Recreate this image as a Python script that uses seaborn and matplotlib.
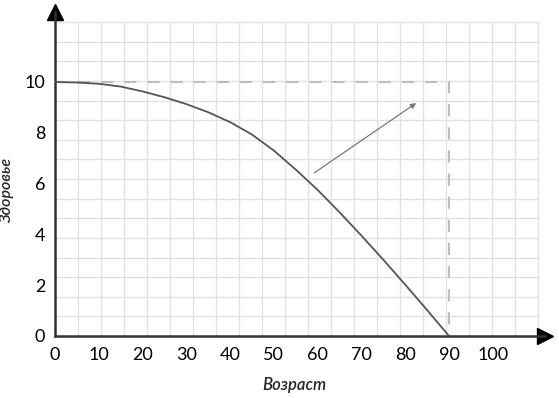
import numpy as np
import pandas as pd
import seaborn as sns
import matplotlib.pyplot as plt

sns.set_theme(style="white")
plt.rcParams['font.family'] = ['Lato', 'DejaVu Sans']

# health vs age
age = [0, 5, 10, 15, 20, 25, 30, 35, 40, 45, 50, 55, 60, 65, 70, 75, 80, 85, 90]
health = [10, 9.98, 9.93, 9.82, 9.63, 9.4, 9.13, 8.81, 8.42, 7.93, 7.3, 6.55,
          5.75, 4.87, 3.95, 3.0, 2.02, 1.02, 0]
x_ticks = [0, 10, 20, 30, 40, 50, 60, 70, 80, 90, 100]
y_ticks = [0, 2, 4, 6, 8, 10]
limit_age = 90
limit_health = 10
arrow_from = (59.2, 6.42)
arrow_to = (82.5, 9.17)

df = pd.DataFrame({'Возраст': age, 'Здоровье': health})

fig = plt.figure(figsize=(5.59, 3.98), dpi=100)
px_x, px_y = 1 / 559, 1 / 398
left, bottom = 55 * px_x, (398 - 336) * px_y
right, top = 545 * px_x, (398 - 12) * px_y
ax = fig.add_axes([left, bottom, right - left, top - bottom])

xmax = (545 - 55) / 4.378
ymax = (336 - 12) / 25.4
ax.set_xlim(0, xmax)
ax.set_ylim(0, ymax)

# background grid (not aligned to ticks)
gx = np.arange(1, 22) * 5.254
gy = np.arange(1, 17) * 0.7725
for v in gx:
    ax.plot([v, v], [0, 16 * 0.7725], color='#e2e2e2', lw=1, zorder=0)
for v in gy:
    ax.plot([0, 21 * 5.254], [v, v], color='#e2e2e2', lw=1, zorder=0)

# dashed guide lines
ax.plot([0, limit_age, limit_age], [limit_health, limit_health, 0],
        color='#bdbdbd', lw=1.5, dashes=(5.8, 5.3), zorder=1)

sns.lineplot(data=df, x='Возраст', y='Здоровье', ax=ax, color='#555555',
             lw=1.3, zorder=3)

ax.annotate('', xy=arrow_to, xytext=arrow_from,
            arrowprops=dict(arrowstyle='-|>', color='#777777', lw=0.9,
                            mutation_scale=8, shrinkA=0, shrinkB=0))

for s in ['top', 'right']:
    ax.spines[s].set_visible(False)
for s in ['left', 'bottom']:
    ax.spines[s].set_color('#333333')
    ax.spines[s].set_linewidth(1.8)
ax.plot(1, 0, '>', color='black', ms=11, transform=ax.transAxes, clip_on=False)
ax.plot(0, 1, '^', color='black', ms=11, transform=ax.transAxes, clip_on=False)

ax.set_xticks(x_ticks)
ax.set_yticks(y_ticks)
ax.tick_params(direction='inout', length=10, width=1.3, color='#333333',
               labelsize=13, labelcolor='black')
ax.tick_params(axis='x', pad=3)
ax.tick_params(axis='y', pad=2)
ax.xaxis.get_major_ticks()[0].tick1line.set_visible(False)
ax.yaxis.get_major_ticks()[0].tick1line.set_visible(False)

ax.set_xlabel('Возраст', fontsize=12, style='italic', fontweight='semibold')
ax.set_ylabel('Здоровье', fontsize=11.5, style='italic', fontweight='semibold')
ax.xaxis.set_label_coords(0.488, -0.128)
ax.yaxis.set_label_coords(-0.084, 0.45)
ax.grid(False)

fig.savefig('out.png', dpi=100)
